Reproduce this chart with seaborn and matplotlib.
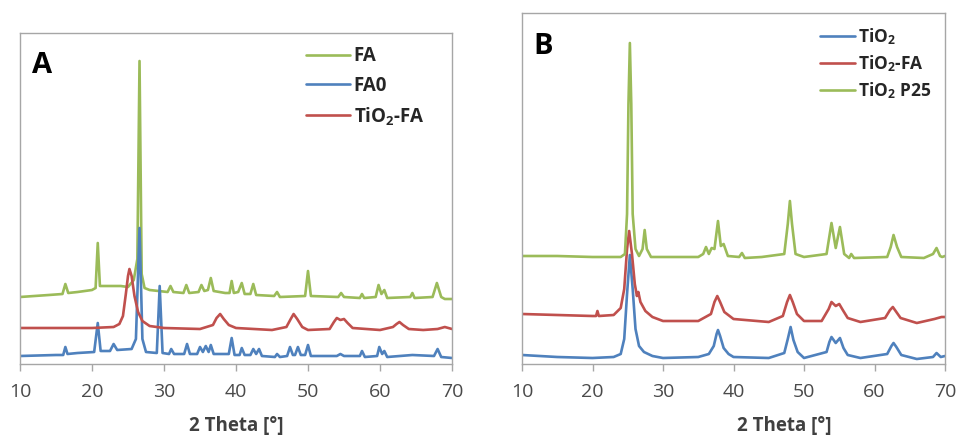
import numpy as np
import pandas as pd
import matplotlib
matplotlib.use("Agg")
import matplotlib.pyplot as plt
import seaborn as sns

# ---------------- data (arbitrary intensity units) ----------------
# Panel A
fa_x = [10, 12, 14, 15.9, 16.3, 16.7, 18, 20, 20.5, 20.8, 21.1, 22, 23, 24, 25, 25.8, 26.3, 26.6, 26.9, 27.3,
        28, 30.5, 30.9, 31.3, 32.7, 33.1, 33.5, 34.8, 35.2, 35.6, 36.1, 36.5, 36.9, 38.5, 39.1, 39.4, 39.7,
        40.3, 40.8, 41.2, 42.0, 42.4, 42.8, 45.3, 45.7, 46.1, 49.6, 50, 50.4, 54.2, 54.6, 55, 57.2, 57.5,
        57.8, 59.4, 59.8, 60.2, 60.6, 61, 64.2, 64.5, 64.8, 67.3, 67.9, 68.5, 69, 70]
fa_y = [67, 68, 69, 70, 80, 71, 72, 74, 76, 121, 78, 78, 78, 78, 77, 84, 105, 303, 90, 76,
        74, 72, 78, 72, 71, 79, 71, 72, 79, 73, 74, 86, 73, 71, 71, 83, 71,
        72, 81, 70, 70, 80, 69, 68, 72, 67, 68, 93, 68, 67, 71, 67, 66, 70,
        66, 67, 79, 70, 74, 66, 67, 71, 66, 67, 81, 67, 65, 65]

tfa_a_x = [10, 15, 20, 23, 23.8, 24.3, 24.7, 25.0, 25.2, 25.5, 25.9, 26.4, 27, 28, 30, 35, 36.8, 37.3, 37.8,
           38.3, 39, 40, 45, 47, 47.6, 48, 48.5, 49.2, 50, 53, 53.6, 54, 54.5, 55, 55.5, 56.2, 60, 61.8,
           62.3, 62.7, 63.2, 64, 66, 68, 69, 70]
tfa_a_y = [36, 36, 36, 37, 40, 48, 70, 88, 95, 88, 68, 52, 43, 38, 36, 35, 39, 46, 50,
           45, 39, 36, 34, 37, 45, 50, 45, 37, 34, 35, 42, 46, 44, 45, 41, 36, 34, 37,
           40, 42, 39, 35, 34, 35, 37, 35]

fa0_x = [10, 15, 16, 16.3, 16.6, 18, 20.3, 20.8, 21.2, 22.5, 23, 23.5, 25.5, 26.1, 26.6, 27, 27.5, 29, 29.4,
         29.8, 30.7, 31, 31.4, 32.8, 33.2, 33.6, 34.6, 35, 35.4, 35.8, 36.2, 36.5, 36.9, 39, 39.4, 39.8,
         40.5, 40.8, 41.2, 42, 42.4, 42.8, 43.2, 43.6, 45.4, 45.7, 46.1, 47.1, 47.5, 47.9, 48.2, 48.6, 49,
         49.6, 50, 50.4, 54, 54.5, 55, 57.2, 57.5, 57.9, 59.6, 59.9, 60.3, 60.6, 61, 64.5, 67.5, 68, 68.5, 70]
fa0_y = [8, 9, 9, 17, 10, 11, 12, 41, 13, 13, 20, 14, 15, 25, 136, 25, 12, 11, 78,
         11, 10, 15, 10, 10, 20, 10, 10, 17, 12, 18, 12, 19, 10, 10, 26, 9,
         9, 16, 9, 9, 15, 10, 15, 8, 7, 10, 7, 8, 17, 9, 9, 17, 9,
         9, 19, 8, 8, 10, 8, 8, 13, 7, 8, 17, 10, 13, 7, 9, 8, 15, 7, 6]

# Panel B
p25_x = [10, 15, 20, 24, 24.6, 24.9, 25.1, 25.3, 25.5, 25.7, 26.1, 26.6, 27.1, 27.4, 27.7, 28.3, 35, 35.7,
         36.1, 36.5, 36.9, 37.3, 37.8, 38.2, 38.6, 39.2, 40.8, 41.2, 41.6, 44, 47.2, 47.7, 48, 48.3, 48.8,
         50, 53.2, 53.9, 54.5, 55.1, 55.7, 56.4, 56.7, 57.1, 61.8, 62.3, 62.7, 63.2, 63.8, 67, 68.3, 68.8,
         69.3, 69.6, 70]
p25_y = [108, 108, 107, 107, 110, 150, 260, 321, 260, 150, 115, 108, 115, 134, 115, 107, 107, 110,
         117, 110, 116, 115, 143, 118, 120, 108, 107, 111, 106, 107, 110, 140, 163, 140, 110,
         107, 110, 141, 116, 137, 110, 106, 110, 106, 107, 117, 129, 117, 107, 106, 110, 116,
         108, 107, 108]

tfa_b_x = [10, 15, 20, 20.5, 20.7, 20.9, 23, 24.0, 24.5, 24.9, 25.2, 25.6, 26.0, 26.3, 26.5, 26.8, 27.5,
           28.5, 30, 35, 36.8, 37.3, 37.7, 38.1, 38.7, 40, 45, 47, 47.6, 48, 48.4, 49, 50, 52.5, 53.5,
           53.9, 54.5, 55, 55.5, 56.2, 58, 61.5, 62.2, 62.6, 63.0, 63.7, 66, 68.5, 69.5, 70]
tfa_b_y = [50, 49, 48, 48, 53, 48, 49, 56, 75, 115, 133, 110, 80, 68, 72, 62, 53,
           47, 43, 43, 50, 62, 68, 62, 52, 45, 42, 48, 62, 69, 62, 50, 43, 43, 55,
           62, 58, 60, 54, 46, 42, 46, 54, 57, 53, 46, 41, 45, 47, 47]

tio2_x = [10, 15, 20, 23, 24.0, 24.5, 24.9, 25.3, 25.7, 26.1, 26.6, 27.3, 28.5, 30, 35, 36.5, 37.2, 37.6,
          37.8, 38.1, 38.6, 39.3, 40, 45, 47.2, 47.7, 48.1, 48.5, 49.1, 50, 53.2, 53.6, 53.9, 54.5, 55.1,
          55.6, 56.2, 58, 61.8, 62.4, 62.7, 63.1, 63.8, 66, 68.3, 68.8, 69.4, 70]
tio2_y = [9, 7, 6, 7, 10, 25, 70, 109, 75, 35, 18, 12, 8, 6, 7, 10, 18, 30,
          34, 28, 16, 10, 7, 6, 11, 25, 37, 24, 12, 6, 12, 22, 27, 21, 26,
          16, 9, 6, 10, 18, 21, 17, 9, 5, 7, 11, 7, 8]

xticks = [10, 20, 30, 40, 50, 60, 70]
labels_a = ["FA", "FA0", r"TiO$_\mathbf{2}$-FA"]
labels_b = [r"TiO$_\mathbf{2}$", r"TiO$_\mathbf{2}$-FA", r"TiO$_\mathbf{2}$ P25"]

GREEN = "#9BBB59"
BLUE = "#4F81BD"
RED = "#C0504D"

# ---------------- style ----------------
sns.set_style("white")
plt.rcParams["font.family"] = ["Open Sans", "DejaVu Sans"]
plt.rcParams["mathtext.fontset"] = "custom"
plt.rcParams["mathtext.rm"] = "Open Sans"
plt.rcParams["mathtext.bf"] = "Open Sans:bold"
plt.rcParams["mathtext.it"] = "Open Sans:italic"

dfa = pd.concat([
    pd.DataFrame({"x": fa_x, "y": fa_y, "s": labels_a[0]}),
    pd.DataFrame({"x": fa0_x, "y": fa0_y, "s": labels_a[1]}),
    pd.DataFrame({"x": tfa_a_x, "y": tfa_a_y, "s": labels_a[2]}),
])
dfb = pd.concat([
    pd.DataFrame({"x": tio2_x, "y": tio2_y, "s": labels_b[0]}),
    pd.DataFrame({"x": tfa_b_x, "y": tfa_b_y, "s": labels_b[1]}),
    pd.DataFrame({"x": p25_x, "y": p25_y, "s": labels_b[2]}),
])

W, H = 959, 437
fig = plt.figure(figsize=(W / 100, H / 100), dpi=100)
axA = fig.add_axes([20 / W, (H - 364) / H, 432 / W, 331 / H])
axB = fig.add_axes([522 / W, (H - 364) / H, 423 / W, 351 / H])

sns.lineplot(data=dfa, x="x", y="y", hue="s", sort=False, estimator=None, ax=axA,
             palette={labels_a[0]: GREEN, labels_a[1]: BLUE, labels_a[2]: RED},
             hue_order=labels_a, linewidth=1.9)
sns.lineplot(data=dfb, x="x", y="y", hue="s", sort=False, estimator=None, ax=axB,
             palette={labels_b[0]: BLUE, labels_b[1]: RED, labels_b[2]: GREEN},
             hue_order=labels_b, linewidth=1.9)

for ax, ylim, letter in [(axA, 331, "A"), (axB, 351, "B")]:
    ax.set_xlim(10, 70)
    ax.set_ylim(0, ylim)
    ax.set_xticks(xticks)
    ax.set_yticks([])
    ax.set_ylabel("")
    for sp in ax.spines.values():
        sp.set_color("#a6a6a6")
        sp.set_linewidth(1.0)
        sp.set_visible(True)
    ax.tick_params(axis="x", direction="out", length=5, width=1, color="#a6a6a6",
                   labelsize=14, labelcolor="#4a4a4a", bottom=True, pad=9)
    ax.text(0.027, 0.945, letter, transform=ax.transAxes, ha="left", va="top",
            fontsize=21, fontweight="bold", color="black")

axA.set_xlabel("2 Theta [°]", fontsize=13.5, fontweight="bold", color="#404040")
axB.set_xlabel("2 Theta [°]", fontsize=13.5, fontweight="bold", color="#404040")
axA.xaxis.set_label_coords(0.5, -0.158)
axB.xaxis.set_label_coords(0.62, -0.149)

hA, lA = axA.get_legend_handles_labels()
axA.legend(hA, lA, loc="upper left", bbox_to_anchor=(0.662, 0.96), frameon=False,
           prop={"weight": "bold", "size": 13.5}, handlelength=2.35, handletextpad=0.2,
           labelspacing=0.5, borderpad=0, borderaxespad=0)
hB, lB = axB.get_legend_handles_labels()
axB.legend(hB, lB, loc="upper left", bbox_to_anchor=(0.705, 0.962), frameon=False,
           prop={"weight": "bold", "size": 12.5}, handlelength=2.0, handletextpad=0.2,
           labelspacing=0.36, borderpad=0, borderaxespad=0)

fig.savefig("out.png", dpi=100)
